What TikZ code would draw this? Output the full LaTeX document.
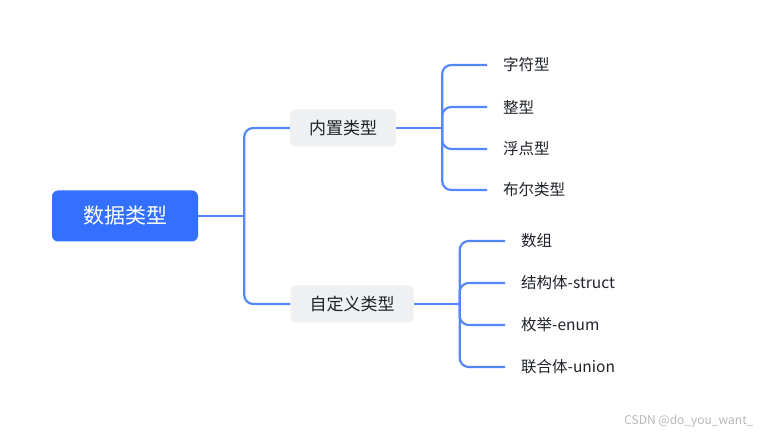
\documentclass[tikz,border=0pt]{standalone}
\usepackage{fontspec}
\setmainfont{Noto Sans CJK SC}
\usepackage{xcolor}
\definecolor{mapRoot}{HTML}{3370FF}
\definecolor{mapTopic}{HTML}{EFF0F2}
\definecolor{mapLine}{HTML}{5587F9}
\definecolor{mapText}{HTML}{1F2329}
\definecolor{mapMark}{HTML}{B8B8B8}
\tikzset{
  rootbox/.style={rectangle, rounded corners=6pt, fill=mapRoot, text=white,
    minimum width=146pt, minimum height=51pt, font=\fontsize{21}{24}\selectfont},
  topicbox/.style={rectangle, rounded corners=6pt, fill=mapTopic, text=mapText,
    inner xsep=19pt, minimum height=37pt, font=\fontsize{17}{20}\selectfont},
  leaf/.style={anchor=west, inner xsep=16pt, inner ysep=2pt, text=mapText,
    font=\fontsize{15.5}{18}\selectfont},
  branch/.style={draw=mapLine, line width=2.2pt, rounded corners=9pt},
}

\begin{document}
\begin{tikzpicture}[x=1pt, y=-1pt]
  \useasboundingbox[fill=white] (0,0) rectangle (761,435);
  % root and topics
  \node[rootbox] (root) at (125,216) {数据类型};
  \node[topicbox] (builtin) at (343,128) {内置类型};
  \node[topicbox] (custom) at (352,304) {自定义类型};
  % leaves
  \node[leaf] (char) at (487,65) {字符型};
  \node[leaf] (int) at (487,107) {整型};
  \node[leaf] (float) at (487,149) {浮点型};
  \node[leaf] (bool) at (487,190) {布尔类型};
  \node[leaf] (array) at (505,241) {数组};
  \node[leaf] (struct) at (505,283) {结构体-struct};
  \node[leaf] (enum) at (505,325) {枚举-enum};
  \node[leaf] (union) at (505,367) {联合体-union};
  % junctions
  \coordinate (rootfork) at ([xshift=46pt]root.east);
  \coordinate (builtinfork) at ([xshift=46pt]builtin.east);
  \coordinate (customfork) at ([xshift=46pt]custom.east);
  % connectors
  \draw[branch] (root.east) -- (rootfork);
  \draw[branch] (builtin.east) -- (builtinfork);
  \draw[branch] (custom.east) -- (customfork);
  \foreach \t in {builtin, custom}
    \draw[branch] (rootfork) |- (\t.west);
  \foreach \t in {char, int, float, bool}
    \draw[branch] (builtinfork) |- (\t.west);
  \foreach \t in {array, struct, enum, union}
    \draw[branch] (customfork) |- (\t.west);
  % watermark
  \node[anchor=east, text=mapMark, font=\fontsize{12}{14}\selectfont] (mark) at (757,421) {CSDN @do\_you\_want\_};
\end{tikzpicture}
\end{document}
